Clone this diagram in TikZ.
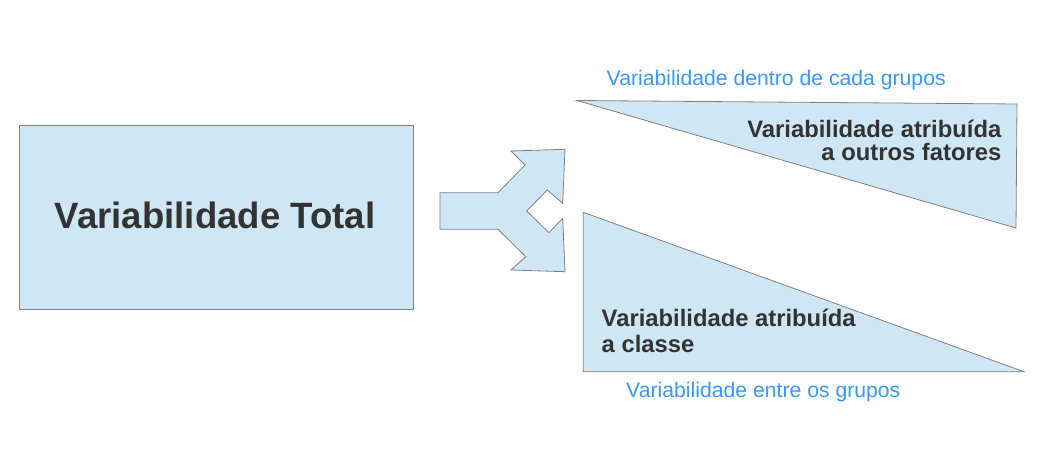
\documentclass[tikz,border=0pt]{standalone}
\usepackage{fontspec}
\setmainfont{Liberation Sans}
\definecolor{boxfill}{HTML}{CFE7F5}
\definecolor{boxline}{HTML}{808080}
\definecolor{darktext}{HTML}{333333}
\definecolor{bluetext}{HTML}{3399FF}
\begin{document}
\begin{tikzpicture}[x=1pt,y=-1pt,
  shapebox/.style={fill=boxfill,draw=boxline,line width=0.8pt,line join=miter},
  bigtext/.style={inner sep=0pt,text=darktext,font=\fontsize{36.6}{37}\selectfont\bfseries},
  midtext/.style={inner sep=0pt,text=darktext,font=\fontsize{23.8}{24}\selectfont\bfseries},
  bluelabel/.style={inner sep=0pt,text=bluetext,font=\fontsize{21.2}{22}\selectfont}]
\useasboundingbox (0,0) rectangle (1058,454);
% total box
\draw[shapebox] (19,125) rectangle (413,309);
% split arrow
\draw[shapebox] (440,192.7) -- (498,192.7) -- (525,165) -- (511,151) -- (565,149.3)
  -- (562.7,203.3) -- (547.3,190) -- (526.7,211) -- (549,232.7) -- (562.7,218.3)
  -- (565,271.7) -- (511,270) -- (525.7,256.7) -- (498,229.3) -- (440,229.3) -- cycle;
% top triangle
\draw[shapebox] (577,100.5) -- (1017,104) -- (1016,228) -- cycle;
% bottom triangle
\draw[shapebox] (583.3,212.3) -- (1024,371.7) -- (583.3,371.7) -- cycle;
% texts
\node[bigtext,anchor=base] (total) at (215,228.5) {Variabilidade Total};
\node[midtext,anchor=base east] (outA) at (1001.5,137.7) {Variabilidade atribuída};
\node[midtext,anchor=base east] (outB) at (1001.5,161) {a outros fatores};
\node[midtext,anchor=base west] (clsA) at (601.5,326.7) {Variabilidade atribuída};
\node[midtext,anchor=base west] (clsB) at (601.5,352.7) {a classe};
\node[bluelabel,anchor=base west] (within) at (606.5,86) {Variabilidade dentro de cada grupos};
\node[bluelabel,anchor=base west] (between) at (626,397) {Variabilidade entre os grupos};
\end{tikzpicture}
\end{document}
